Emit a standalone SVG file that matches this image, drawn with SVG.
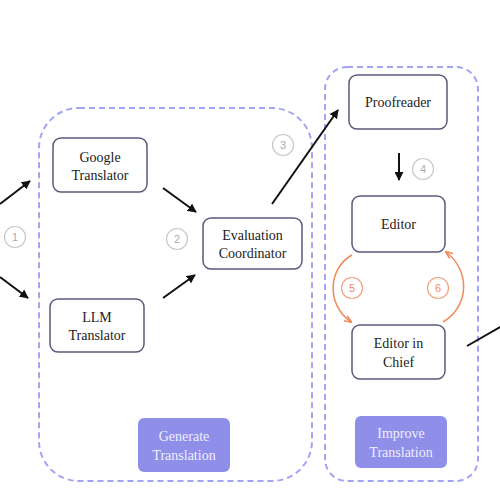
<svg xmlns="http://www.w3.org/2000/svg" width="500" height="500" viewBox="0 0 500 500">
<defs>
<marker id="ah" viewBox="0 0 10 10" refX="9" refY="5" markerWidth="4.5" markerHeight="4.5" orient="auto"><path d="M0,0 L10,5 L0,10 z" fill="#111"/></marker>
<marker id="oh" viewBox="0 0 10 10" refX="9" refY="5" markerWidth="5" markerHeight="5" orient="auto"><path d="M0,1 L10,5 L0,9" fill="none" stroke="#f08a5a" stroke-width="2"/></marker>
<style>
.grp{fill:none;stroke:#a3a3f5;stroke-width:2;stroke-dasharray:6 4}
.node rect{fill:#fff;stroke:#5a5a7a;stroke-width:1.5}
.t{font-family:"Liberation Serif","Times New Roman",serif;font-size:14px;fill:#222;text-anchor:middle}
.btn rect{fill:#8f8fea}
.bt{font-family:"Liberation Serif","Times New Roman",serif;font-size:14px;fill:#eef;text-anchor:middle}
.edge{stroke:#111;stroke-width:2;fill:none}
.oedge{stroke:#f08a5a;stroke-width:1.5;fill:none}
.num circle{fill:none;stroke:#c8c8c8;stroke-width:1.2}
.num text{font-family:"Liberation Sans",Arial,sans-serif;font-size:11px;fill:#aaa;text-anchor:middle}
.onum circle{fill:none;stroke:#f3a07a;stroke-width:1.2}
.onum text{font-family:"Liberation Sans",Arial,sans-serif;font-size:11px;fill:#f08a5a;text-anchor:middle}
</style>
</defs>
<g id="groups">
<rect class="grp" x="39" y="108" width="273" height="373" rx="40"/>
<rect class="grp" x="325" y="67" width="153" height="414" rx="22"/>
</g>
<g id="connectors">
<line class="edge" x1="0" y1="204" x2="30" y2="181" marker-end="url(#ah)"/>
<line class="edge" x1="0" y1="277" x2="28" y2="298" marker-end="url(#ah)"/>
<line class="edge" x1="163" y1="188" x2="196" y2="212" marker-end="url(#ah)"/>
<line class="edge" x1="163" y1="298" x2="195" y2="275" marker-end="url(#ah)"/>
<line class="edge" x1="272" y1="204" x2="338" y2="110" marker-end="url(#ah)"/>
<line class="edge" x1="399" y1="153" x2="399" y2="180" marker-end="url(#ah)"/>
<line class="edge" x1="467" y1="346" x2="502" y2="326"/>
<path class="oedge" d="M352,255 C328,268 326,305 351,322" marker-end="url(#oh)"/>
<path class="oedge" d="M443,322 C470,306 470,270 446,252" marker-end="url(#oh)"/>
</g>
<g id="n1" class="num"><circle cx="15" cy="237" r="10.5"/><text x="15" y="241">1</text></g>
<g id="n2" class="num"><circle cx="177" cy="239" r="10.5"/><text x="177" y="243">2</text></g>
<g id="n3" class="num"><circle cx="283" cy="145" r="10.5"/><text x="283" y="149">3</text></g>
<g id="n4" class="num"><circle cx="423" cy="169" r="10.5"/><text x="423" y="173">4</text></g>
<g id="n5" class="onum"><circle cx="352" cy="288" r="10.5"/><text x="352" y="292">5</text></g>
<g id="n6" class="onum"><circle cx="438" cy="288" r="10.5"/><text x="438" y="292">6</text></g>
<g id="google" class="node"><rect x="53" y="138" width="94" height="54" rx="8"/><text class="t" x="100" y="162">Google</text><text class="t" x="100" y="180">Translator</text></g>
<g id="llm" class="node"><rect x="50" y="299" width="94" height="53" rx="8"/><text class="t" x="97" y="322">LLM</text><text class="t" x="97" y="340">Translator</text></g>
<g id="eval" class="node"><rect x="203" y="218" width="99" height="51" rx="8"/><text class="t" x="252.5" y="240">Evaluation</text><text class="t" x="252.5" y="258">Coordinator</text></g>
<g id="proof" class="node"><rect x="349" y="75" width="98" height="54" rx="8"/><text class="t" x="398" y="107">Proofreader</text></g>
<g id="editor" class="node"><rect x="352" y="196" width="93" height="56" rx="8"/><text class="t" x="398.5" y="229">Editor</text></g>
<g id="chief" class="node"><rect x="352" y="325" width="93" height="54" rx="8"/><text class="t" x="398.5" y="348">Editor in</text><text class="t" x="398.5" y="367">Chief</text></g>
<g id="gen" class="btn"><rect x="138" y="418" width="92" height="54" rx="6"/><text class="bt" x="184" y="441">Generate</text><text class="bt" x="184" y="460">Translation</text></g>
<g id="imp" class="btn"><rect x="355" y="416" width="92" height="52" rx="6"/><text class="bt" x="401" y="438">Improve</text><text class="bt" x="401" y="457">Translation</text></g>
</svg>
